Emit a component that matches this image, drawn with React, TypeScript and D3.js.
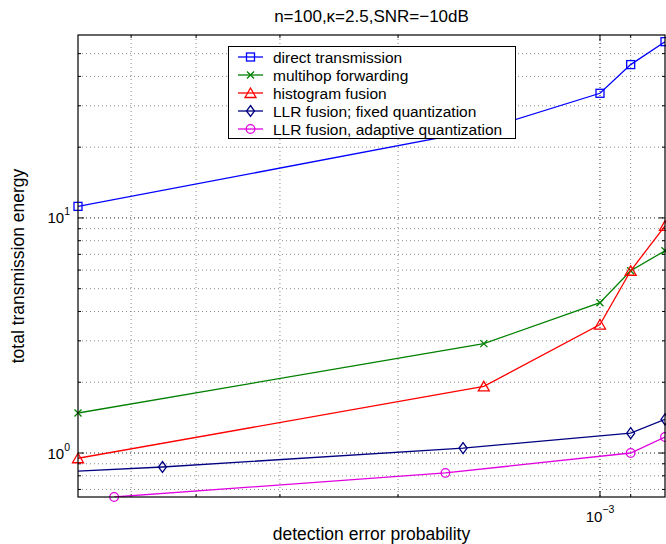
import { useEffect, useRef } from "react";
import * as d3 from "d3";

// series values (x = detection error probability, y = energy)
const directX = [6e-3, 1.49e-3, 1e-3, 0.9e-3, 0.8e-3];
const directY = [11.2, 23.8, 33.9, 44.9, 56.2];
const multihopX = [6e-3, 1.49e-3, 1e-3, 0.9e-3, 0.8e-3];
const multihopY = [1.48, 2.92, 4.36, 5.96, 7.25];
const histogramX = [6e-3, 1.49e-3, 1e-3, 0.9e-3, 0.8e-3];
const histogramY = [0.95, 1.92, 3.52, 5.96, 9.25];
const llrFixedX = [7e-3, 4.49e-3, 1.6e-3, 0.9e-3, 0.8e-3];
const llrFixedY = [0.82, 0.872, 1.05, 1.215, 1.39];
const llrAdaptiveX = [5.3e-3, 1.7e-3, 0.9e-3, 0.8e-3];
const llrAdaptiveY = [0.65, 0.823, 1.0, 1.17];

const seriesNames = [
  "direct transmission",
  "multihop forwarding",
  "histogram fusion",
  "LLR fusion; fixed quantization",
  "LLR fusion, adaptive quantization",
];

// tick values
const xMajorTicks = [1e-3];
const xMajorExp = ["\u22123"];
const xMinorTicks = [8e-4, 9e-4, 2e-3, 3e-3, 4e-3, 5e-3, 6e-3];
const yMajorTicks = [1, 10];
const yMajorExp = ["0", "1"];
const yMinorTicks = [0.7, 0.8, 0.9, 2, 3, 4, 5, 6, 7, 8, 9, 20, 30, 40, 50, 60];

const title = "n=100,\u03ba=2.5,SNR=\u221210dB";
const xLabel = "detection error probability";
const yLabel = "total transmission energy";

const W = 666;
const H = 544;
const FONT = "'Liberation Sans', Arial, Helvetica, sans-serif";

function App() {
  const svgRef = useRef<SVGSVGElement | null>(null);

  useEffect(() => {
    const left = 78;
    const right = 665;
    const top = 35;
    const bottom = 497;

    const x = d3.scaleLog().domain([6e-3, 8e-4]).range([left, right]);
    const y = d3.scaleLog().domain([0.65, 60]).range([bottom, top]);

    const svg = d3.select(svgRef.current);
    svg.selectAll("*").remove();
    svg.attr("width", W).attr("height", H).attr("font-family", FONT);

    svg.append("rect").attr("width", W).attr("height", H).attr("fill", "white");

    svg
      .append("clipPath")
      .attr("id", "plotclip")
      .append("rect")
      .attr("x", left)
      .attr("y", top)
      .attr("width", right - left)
      .attr("height", bottom - top);

    // grid
    const grid = svg.append("g").attr("fill", "none");
    const inX = (v: number) => x(v) > left + 1 && x(v) < right - 1;
    const inY = (v: number) => y(v) > top + 1 && y(v) < bottom - 1;

    xMinorTicks.filter(inX).forEach((v) => {
      grid.append("line").attr("x1", x(v)).attr("x2", x(v)).attr("y1", top).attr("y2", bottom)
        .attr("stroke", "#888").attr("stroke-dasharray", "1,3");
    });
    xMajorTicks.filter(inX).forEach((v) => {
      grid.append("line").attr("x1", x(v)).attr("x2", x(v)).attr("y1", top).attr("y2", bottom)
        .attr("stroke", "#222").attr("stroke-dasharray", "1,3");
    });
    yMinorTicks.filter(inY).forEach((v) => {
      grid.append("line").attr("y1", y(v)).attr("y2", y(v)).attr("x1", left).attr("x2", right)
        .attr("stroke", "#888").attr("stroke-dasharray", "1,3");
    });
    yMajorTicks.filter(inY).forEach((v) => {
      grid.append("line").attr("y1", y(v)).attr("y2", y(v)).attr("x1", left).attr("x2", right)
        .attr("stroke", "#222").attr("stroke-dasharray", "1,3");
    });

    // tick marks, inside on all four sides
    const ticks = svg.append("g").attr("stroke", "black").attr("stroke-width", 1);
    const tickX = (v: number, len: number) => {
      ticks.append("line").attr("x1", x(v)).attr("x2", x(v)).attr("y1", bottom).attr("y2", bottom - len);
      ticks.append("line").attr("x1", x(v)).attr("x2", x(v)).attr("y1", top).attr("y2", top + len);
    };
    const tickY = (v: number, len: number) => {
      ticks.append("line").attr("y1", y(v)).attr("y2", y(v)).attr("x1", left).attr("x2", left + len);
      ticks.append("line").attr("y1", y(v)).attr("y2", y(v)).attr("x1", right).attr("x2", right - len);
    };
    xMinorTicks.filter(inX).forEach((v) => tickX(v, 3));
    xMajorTicks.forEach((v) => tickX(v, 6));
    yMinorTicks.filter(inY).forEach((v) => tickY(v, 3));
    yMajorTicks.forEach((v) => tickY(v, 6));

    // series
    const series = [
      { xs: directX, ys: directY, color: "#0000ff", marker: "square" },
      { xs: multihopX, ys: multihopY, color: "#008000", marker: "x" },
      { xs: histogramX, ys: histogramY, color: "#ff0000", marker: "triangle" },
      { xs: llrFixedX, ys: llrFixedY, color: "#000080", marker: "diamond" },
      { xs: llrAdaptiveX, ys: llrAdaptiveY, color: "#e000e0", marker: "circle" },
    ];

    const drawMarker = (g: any, kind: string, cx: number, cy: number, color: string) => {
      if (kind === "square") {
        g.append("rect").attr("x", cx - 4).attr("y", cy - 4).attr("width", 8).attr("height", 8)
          .attr("fill", "none").attr("stroke", color).attr("stroke-width", 1.3);
      } else if (kind === "x") {
        g.append("path").attr("d", `M${cx - 3.5},${cy - 3.5}L${cx + 3.5},${cy + 3.5}M${cx - 3.5},${cy + 3.5}L${cx + 3.5},${cy - 3.5}`)
          .attr("stroke", color).attr("stroke-width", 1.3);
      } else if (kind === "triangle") {
        g.append("path").attr("d", `M${cx},${cy - 5}L${cx + 5.5},${cy + 4.5}L${cx - 5.5},${cy + 4.5}Z`)
          .attr("fill", "none").attr("stroke", color).attr("stroke-width", 1.3);
      } else if (kind === "diamond") {
        g.append("path").attr("d", `M${cx},${cy - 5.5}L${cx + 4},${cy}L${cx},${cy + 5.5}L${cx - 4},${cy}Z`)
          .attr("fill", "none").attr("stroke", color).attr("stroke-width", 1.3);
      } else {
        g.append("circle").attr("cx", cx).attr("cy", cy).attr("r", 4.3)
          .attr("fill", "none").attr("stroke", color).attr("stroke-width", 1.3);
      }
    };

    const line = d3
      .line<[number, number]>()
      .x((d) => x(d[0]))
      .y((d) => y(d[1]));

    series.forEach((s) => {
      const pts = s.xs.map((v, i) => [v, s.ys[i]] as [number, number]);
      svg.append("path").attr("d", line(pts)).attr("fill", "none")
        .attr("stroke", s.color).attr("stroke-width", 1.3).attr("clip-path", "url(#plotclip)");
      const mg = svg.append("g");
      pts.forEach((p) => {
        const px = x(p[0]);
        const py = y(p[1]);
        if (px >= left - 0.5 && px <= right + 0.5 && py >= top - 0.5 && py <= bottom + 0.5) {
          drawMarker(mg, s.marker, px, py, s.color);
        }
      });
    });

    // axes box
    svg.append("rect").attr("x", left).attr("y", top).attr("width", right - left).attr("height", bottom - top)
      .attr("fill", "none").attr("stroke", "black").attr("stroke-width", 1.2);

    // tick labels
    yMajorTicks.forEach((v, i) => {
      const t = svg.append("text").attr("x", left - 8).attr("y", y(v) + 5.5).attr("text-anchor", "end")
        .attr("font-size", 15);
      t.append("tspan").text("10");
      t.append("tspan").attr("dy", -8).attr("font-size", 10.5).text(yMajorExp[i]);
    });
    xMajorTicks.forEach((v, i) => {
      const t = svg.append("text").attr("x", x(v)).attr("y", bottom + 25).attr("text-anchor", "middle")
        .attr("font-size", 15);
      t.append("tspan").text("10");
      t.append("tspan").attr("dy", -9).attr("font-size", 10.5).text(xMajorExp[i]);
    });

    // title and axis labels
    svg.append("text").attr("x", (left + right) / 2).attr("y", 22).attr("text-anchor", "middle")
      .attr("font-size", 17).text(title);
    svg.append("text").attr("x", (left + right) / 2).attr("y", 540).attr("text-anchor", "middle")
      .attr("font-size", 17.5).text(xLabel);
    svg.append("text").attr("transform", `translate(24,${(top + bottom) / 2}) rotate(-90)`)
      .attr("text-anchor", "middle").attr("font-size", 17.5).text(yLabel);

    // legend
    const lg = svg.append("g");
    lg.append("rect").attr("x", 228.5).attr("y", 46.5).attr("width", 287).attr("height", 92)
      .attr("fill", "white").attr("stroke", "black").attr("stroke-width", 1);
    series.forEach((s, i) => {
      const cy = 57 + i * 18;
      lg.append("line").attr("x1", 238).attr("x2", 263).attr("y1", cy).attr("y2", cy)
        .attr("stroke", s.color).attr("stroke-width", 1.3);
      drawMarker(lg, s.marker, 250.5, cy, s.color);
      lg.append("text").attr("x", 273).attr("y", cy + 5.5).attr("font-size", 15.5).text(seriesNames[i]);
    });
  }, []);

  return (
    <div style={{ position: "absolute", left: 0, top: 0, width: W, height: H }}>
      <svg ref={svgRef} width={W} height={H}></svg>
    </div>
  );
}

export default App;
